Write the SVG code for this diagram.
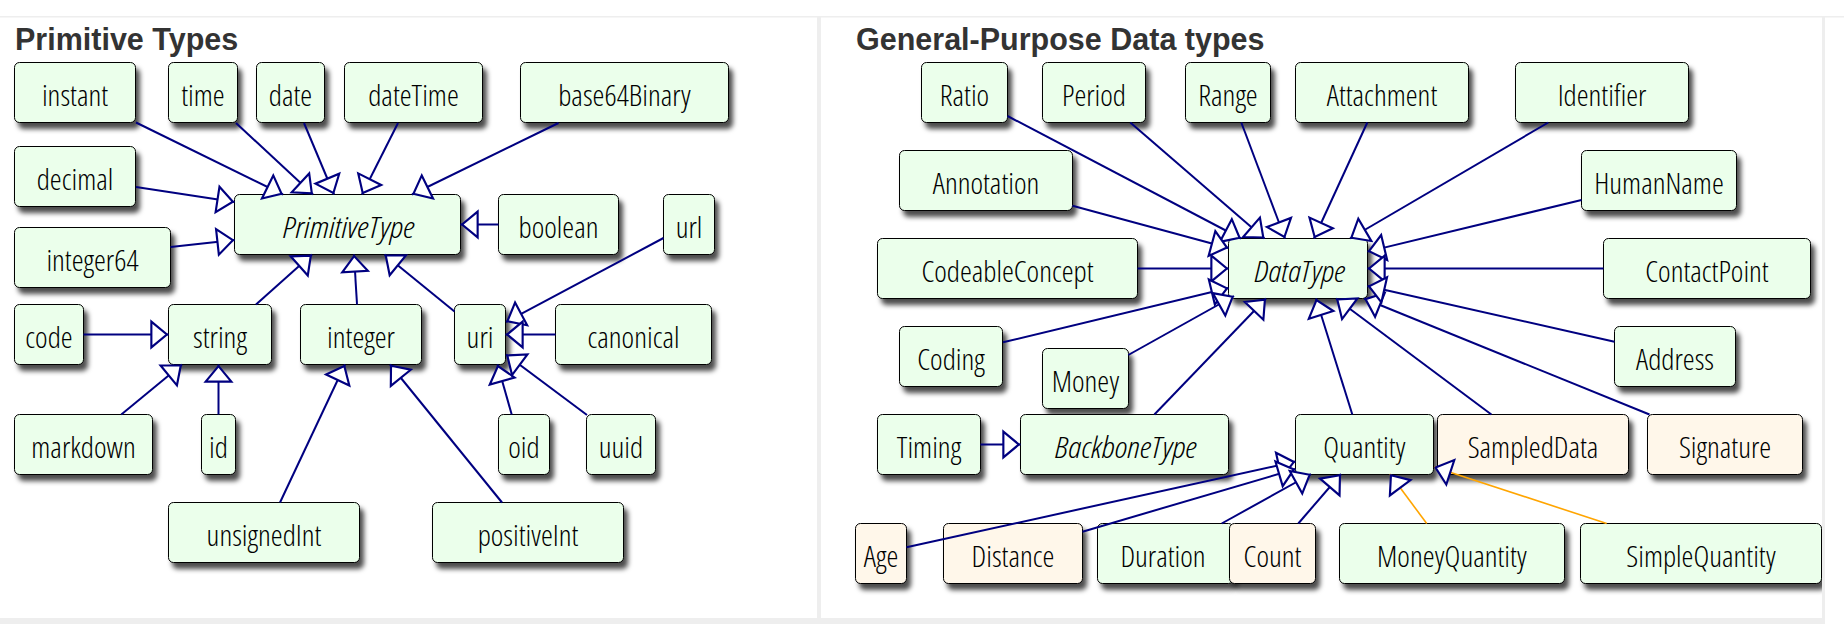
<svg xmlns="http://www.w3.org/2000/svg" width="1844" height="624" viewBox="0 0 1844 624">
<style>
.n rect{fill:#ebffeb;stroke:#000;stroke-width:1;filter:url(#sh)}
.n.c rect{fill:#fff7ea}
.n text{font-family:"Open Sans","Liberation Sans Narrow","DejaVu Sans Condensed",sans-serif;font-stretch:condensed;font-weight:300;font-size:30px;text-anchor:middle;fill:#000}
.n.i text{font-style:italic}
.ttl{font-family:"Liberation Sans",Arial,sans-serif;font-weight:bold;font-size:30.5px;fill:#333}
.e line{stroke:#000080;stroke-width:2;marker-end:url(#tri)}
.e line.o{stroke:#ffa500;stroke-width:1.6}
.frame{fill:#eeeeee}
</style>
<defs>
<filter id="sh" x="-20%" y="-30%" width="150%" height="180%">
<feGaussianBlur in="SourceAlpha" stdDeviation="2.5"/>
<feOffset dx="4" dy="6" result="b"/>
<feFlood flood-color="#000" flood-opacity="0.7"/>
<feComposite in2="b" operator="in"/>
<feMerge><feMergeNode/><feMergeNode in="SourceGraphic"/></feMerge>
</filter>
<marker id="tri" markerUnits="userSpaceOnUse" markerWidth="30" markerHeight="30" viewBox="-2 -14 20 28" refX="16" refY="0" orient="auto" overflow="visible">
<path d="M0,-12 L14.5,0 L0,12 Z" fill="#fff" stroke="#000080" stroke-width="2"/>
</marker>
<clipPath id="rp"><rect x="821" y="17" width="1001" height="601"/></clipPath>
</defs>
<rect width="1844" height="624" fill="#fff"/>
<rect class="frame" x="0" y="16" width="1844" height="1.5"/>
<rect class="frame" x="817" y="17" width="4" height="607"/>
<rect class="frame" x="1822" y="17" width="3" height="607"/>
<rect class="frame" x="0" y="618" width="1825" height="6"/>
<text class="ttl" x="15" y="50">Primitive Types</text>
<text class="ttl" x="856" y="50">General-Purpose Data types</text>
<g id="left-nodes">
<g id="instant" class="n"><rect x="14.5" y="62.5" width="121" height="60" rx="5"/><text x="75" y="106">instant</text></g>
<g id="time" class="n"><rect x="168.5" y="62.5" width="69" height="60" rx="5"/><text x="203" y="106">time</text></g>
<g id="date" class="n"><rect x="256.5" y="62.5" width="68" height="60" rx="5"/><text x="290.5" y="106">date</text></g>
<g id="dateTime" class="n"><rect x="344.5" y="62.5" width="138" height="60" rx="5"/><text x="413.5" y="106">dateTime</text></g>
<g id="base64Binary" class="n"><rect x="520.5" y="62.5" width="208" height="60" rx="5"/><text x="624.5" y="106">base64Binary</text></g>
<g id="decimal" class="n"><rect x="14.5" y="146.5" width="121" height="60" rx="5"/><text x="75" y="190">decimal</text></g>
<g id="PrimitiveType" class="n i"><rect x="234.5" y="194.5" width="226" height="60" rx="5"/><text x="349" y="238" textLength="132" lengthAdjust="spacingAndGlyphs">PrimitiveType</text></g>
<g id="boolean" class="n"><rect x="498.5" y="194.5" width="120" height="60" rx="5"/><text x="558.5" y="238">boolean</text></g>
<g id="url" class="n"><rect x="663.5" y="194.5" width="51" height="60" rx="5"/><text x="689" y="238">url</text></g>
<g id="integer64" class="n"><rect x="14.5" y="227.5" width="156" height="60" rx="5"/><text x="92.5" y="271">integer64</text></g>
<g id="code" class="n"><rect x="14.5" y="304.5" width="69" height="60" rx="5"/><text x="49" y="348">code</text></g>
<g id="string" class="n"><rect x="168.5" y="304.5" width="103" height="60" rx="5"/><text x="220" y="348">string</text></g>
<g id="integer" class="n"><rect x="300.5" y="304.5" width="121" height="60" rx="5"/><text x="361" y="348">integer</text></g>
<g id="uri" class="n"><rect x="454.5" y="304.5" width="51" height="60" rx="5"/><text x="480" y="348">uri</text></g>
<g id="canonical" class="n"><rect x="555.5" y="304.5" width="156" height="60" rx="5"/><text x="633.5" y="348">canonical</text></g>
<g id="markdown" class="n"><rect x="14.5" y="414.5" width="138" height="60" rx="5"/><text x="83.5" y="458">markdown</text></g>
<g id="id" class="n"><rect x="201.5" y="414.5" width="34" height="60" rx="5"/><text x="218.5" y="458">id</text></g>
<g id="oid" class="n"><rect x="498.5" y="414.5" width="51" height="60" rx="5"/><text x="524" y="458">oid</text></g>
<g id="uuid" class="n"><rect x="586.5" y="414.5" width="69" height="60" rx="5"/><text x="621" y="458">uuid</text></g>
<g id="unsignedInt" class="n"><rect x="168.5" y="502.5" width="191" height="60" rx="5"/><text x="264" y="546">unsignedInt</text></g>
<g id="positiveInt" class="n"><rect x="432.5" y="502.5" width="191" height="60" rx="5"/><text x="528" y="546">positiveInt</text></g>
</g>
<g id="right-nodes" clip-path="url(#rp)">
<g id="Ratio" class="n"><rect x="921.5" y="62.5" width="86" height="60" rx="5"/><text x="964.5" y="106">Ratio</text></g>
<g id="Period" class="n"><rect x="1042.5" y="62.5" width="103" height="60" rx="5"/><text x="1094" y="106">Period</text></g>
<g id="Range" class="n"><rect x="1185.5" y="62.5" width="85" height="60" rx="5"/><text x="1228" y="106">Range</text></g>
<g id="Attachment" class="n"><rect x="1295.5" y="62.5" width="173" height="60" rx="5"/><text x="1382" y="106">Attachment</text></g>
<g id="Identifier" class="n"><rect x="1515.5" y="62.5" width="173" height="60" rx="5"/><text x="1602" y="106">Identifier</text></g>
<g id="Annotation" class="n"><rect x="899.5" y="150.5" width="173" height="60" rx="5"/><text x="986" y="194">Annotation</text></g>
<g id="HumanName" class="n"><rect x="1581.5" y="150.5" width="155" height="60" rx="5"/><text x="1659" y="194">HumanName</text></g>
<g id="CodeableConcept" class="n"><rect x="877.5" y="238.5" width="260" height="60" rx="5"/><text x="1007.5" y="282">CodeableConcept</text></g>
<g id="DataType" class="n i"><rect x="1228.5" y="238.5" width="139" height="60" rx="5"/><text x="1300" y="282" textLength="91" lengthAdjust="spacingAndGlyphs">DataType</text></g>
<g id="ContactPoint" class="n"><rect x="1603.5" y="238.5" width="207" height="60" rx="5"/><text x="1707" y="282">ContactPoint</text></g>
<g id="Coding" class="n"><rect x="899.5" y="326.5" width="103" height="60" rx="5"/><text x="951" y="370">Coding</text></g>
<g id="Money" class="n"><rect x="1042.5" y="348.5" width="86" height="60" rx="5"/><text x="1085.5" y="392">Money</text></g>
<g id="Address" class="n"><rect x="1614.5" y="326.5" width="121" height="60" rx="5"/><text x="1675" y="370">Address</text></g>
<g id="Timing" class="n"><rect x="877.5" y="414.5" width="103" height="60" rx="5"/><text x="929" y="458">Timing</text></g>
<g id="BackboneType" class="n i"><rect x="1020.5" y="414.5" width="208" height="60" rx="5"/><text x="1126" y="458" textLength="142" lengthAdjust="spacingAndGlyphs">BackboneType</text></g>
<g id="Quantity" class="n"><rect x="1295.5" y="414.5" width="138" height="60" rx="5"/><text x="1364.5" y="458">Quantity</text></g>
<g id="SampledData" class="n c"><rect x="1437.5" y="414.5" width="191" height="60" rx="5"/><text x="1533" y="458">SampledData</text></g>
<g id="Signature" class="n c"><rect x="1647.5" y="414.5" width="155" height="60" rx="5"/><text x="1725" y="458">Signature</text></g>
<g id="Age" class="n c"><rect x="855.5" y="523.5" width="51" height="60" rx="5"/><text x="881" y="567">Age</text></g>
<g id="Distance" class="n c"><rect x="943.5" y="523.5" width="139" height="60" rx="5"/><text x="1013" y="567">Distance</text></g>
<g id="Duration" class="n"><rect x="1097.5" y="523.5" width="136" height="60" rx="5"/><text x="1163" y="567">Duration</text></g>
<g id="Count" class="n c"><rect x="1229.5" y="523.5" width="86" height="60" rx="5"/><text x="1272.5" y="567">Count</text></g>
<g id="MoneyQuantity" class="n"><rect x="1339.5" y="523.5" width="225" height="60" rx="5"/><text x="1452" y="567">MoneyQuantity</text></g>
<g id="SimpleQuantity" class="n"><rect x="1580.5" y="523.5" width="241" height="60" rx="5"/><text x="1701" y="567">SimpleQuantity</text></g>
</g>
<g id="connectors" class="e">
<line x1="136" y1="122.5" x2="283" y2="194.5"/>
<line x1="236" y1="123" x2="313" y2="194.5"/>
<line x1="304" y1="123" x2="334" y2="194.5"/>
<line x1="398" y1="123" x2="362" y2="194.5"/>
<line x1="558.5" y1="123" x2="412" y2="194.5"/>
<line x1="136" y1="187" x2="234.5" y2="202"/>
<line x1="170.5" y1="247" x2="234.5" y2="240"/>
<line x1="498.5" y1="224.5" x2="460.5" y2="224.5"/>
<line x1="256" y1="304.5" x2="312" y2="254.5"/>
<line x1="357" y1="304.5" x2="354" y2="254.5"/>
<line x1="454.5" y1="311.5" x2="384.5" y2="254.5"/>
<line x1="663.5" y1="238" x2="506" y2="322"/>
<line x1="555.5" y1="334.5" x2="505.5" y2="334.5"/>
<line x1="511.7" y1="414.5" x2="497.5" y2="364.5"/>
<line x1="587" y1="415" x2="506" y2="354.5"/>
<line x1="83.5" y1="334.5" x2="168.5" y2="334.5"/>
<line x1="121.3" y1="414.5" x2="182" y2="364.5"/>
<line x1="218.5" y1="414.5" x2="218.5" y2="364.5"/>
<line x1="280" y1="502.5" x2="345" y2="364.5"/>
<line x1="502" y1="502.5" x2="390" y2="364.5"/>
<line x1="1007.5" y1="116" x2="1241" y2="238.5"/>
<line x1="1130.3" y1="122.5" x2="1264.5" y2="238.5"/>
<line x1="1241.3" y1="122.5" x2="1285" y2="238.5"/>
<line x1="1367.3" y1="122.5" x2="1314" y2="238.5"/>
<line x1="1548.3" y1="122.5" x2="1350" y2="238.5"/>
<line x1="1072.5" y1="205.7" x2="1228.5" y2="248"/>
<line x1="1581.5" y1="200" x2="1367.5" y2="251.6"/>
<line x1="1137.5" y1="268.5" x2="1228.5" y2="268.5"/>
<line x1="1603.5" y1="268.5" x2="1367.5" y2="268.5"/>
<line x1="1003" y1="342.3" x2="1228.5" y2="288"/>
<line x1="1128.3" y1="355" x2="1234" y2="296"/>
<line x1="1154.4" y1="414.5" x2="1266" y2="298.5"/>
<line x1="1352.3" y1="414.5" x2="1316" y2="298.5"/>
<line x1="1491.4" y1="414.5" x2="1336" y2="298.5"/>
<line x1="1649.5" y1="414.5" x2="1364" y2="298.5"/>
<line x1="1614.5" y1="341.7" x2="1367.5" y2="286"/>
<line x1="980.5" y1="444.5" x2="1020.5" y2="444.5"/>
<line x1="906.5" y1="547.3" x2="1295.5" y2="461.6"/>
<line x1="1082.5" y1="531.7" x2="1295.5" y2="469"/>
<line x1="1221.7" y1="523.5" x2="1311" y2="474"/>
<line x1="1298.3" y1="523.5" x2="1341" y2="474"/>
<line class="o" x1="1426.7" y1="523.5" x2="1390" y2="474"/>
<line class="o" x1="1606.7" y1="523.5" x2="1434" y2="467"/>
</g>
</svg>
